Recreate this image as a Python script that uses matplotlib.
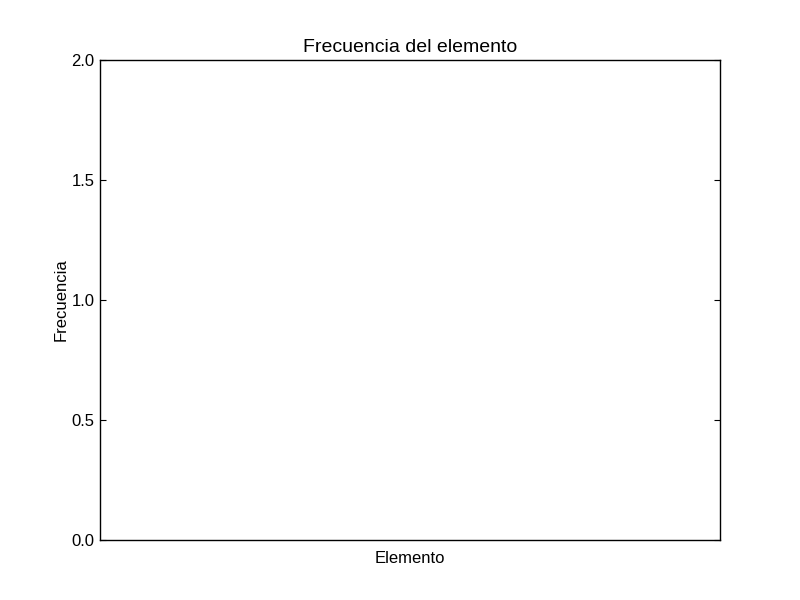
import matplotlib
matplotlib.use("Agg")
import matplotlib.pyplot as plt

# No data drawn in the reference: empty category list and counts
elementos = []
frecuencias = []
y_ticks = [0.0, 0.5, 1.0, 1.5, 2.0]

plt.rcParams["font.family"] = ["Liberation Sans", "DejaVu Sans"]

fig = plt.figure(figsize=(8, 6), dpi=100)
ax = fig.add_axes([0.125, 0.1, 0.775, 0.8])

ax.bar(range(len(elementos)), frecuencias, color="blue")

ax.set_xlim(0, 1)
ax.set_ylim(0, 2)
ax.set_xticks([])
ax.set_yticks(y_ticks)
ax.set_yticklabels(["%.1f" % v for v in y_ticks])
ax.tick_params(axis="y", direction="in", right=True, length=4, labelsize=12, pad=4)

for s in ax.spines.values():
    s.set_linewidth(1.0)

ax.set_title("Frecuencia del elemento", fontsize=14)
ax.set_xlabel("Elemento", fontsize=12, labelpad=8)
ax.set_ylabel("Frecuencia", fontsize=12, labelpad=2)

fig.savefig("out.png", dpi=100)
